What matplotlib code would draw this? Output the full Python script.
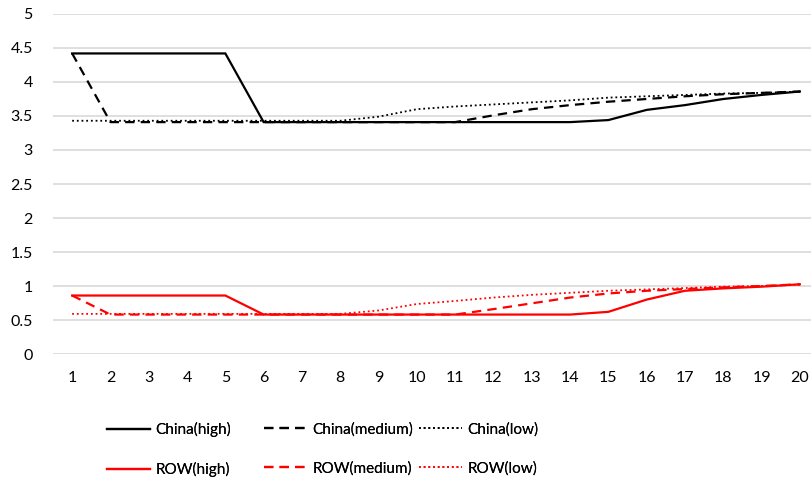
import matplotlib
matplotlib.use("Agg")
import matplotlib.pyplot as plt

periods = list(range(1, 21))
x_labels = [str(p) for p in periods]

china_high = [4.42, 4.42, 4.42, 4.42, 4.42, 3.41, 3.41, 3.41, 3.41, 3.41,
              3.41, 3.41, 3.41, 3.41, 3.44, 3.59, 3.66, 3.75, 3.81, 3.86]
china_medium = [4.42, 3.41, 3.41, 3.41, 3.41, 3.41, 3.41, 3.41, 3.41, 3.41,
                3.41, 3.51, 3.60, 3.66, 3.71, 3.75, 3.79, 3.82, 3.84, 3.86]
china_low = [3.43, 3.43, 3.43, 3.43, 3.43, 3.43, 3.43, 3.43, 3.49, 3.60,
             3.64, 3.67, 3.70, 3.73, 3.77, 3.79, 3.81, 3.83, 3.84, 3.86]

row_high = [0.86, 0.86, 0.86, 0.86, 0.86, 0.58, 0.58, 0.58, 0.58, 0.58,
            0.58, 0.58, 0.58, 0.58, 0.62, 0.80, 0.93, 0.965, 0.99, 1.025]
row_medium = [0.86, 0.58, 0.58, 0.58, 0.58, 0.58, 0.58, 0.58, 0.58, 0.58,
              0.58, 0.66, 0.745, 0.83, 0.89, 0.93, 0.955, 0.98, 1.0, 1.025]
row_low = [0.59, 0.59, 0.59, 0.59, 0.59, 0.59, 0.59, 0.59, 0.64, 0.735,
           0.78, 0.83, 0.87, 0.90, 0.93, 0.95, 0.97, 0.99, 1.0, 1.02]

y_ticks = [0, 0.5, 1, 1.5, 2, 2.5, 3, 3.5, 4, 4.5, 5]
y_tick_labels = ["0", "0.5", "1", "1.5", "2", "2.5", "3", "3.5", "4", "4.5", "5"]

plt.rcParams["font.family"] = ["Lato", "DejaVu Sans"]

W, H = 811, 482
fig = plt.figure(figsize=(W / 100, H / 100), dpi=100)
ax = fig.add_axes([53 / W, 128 / H, (819 - 53) / W, 340 / H])

solid = dict(linestyle="-", linewidth=1.6)
dashed = dict(linestyle=(0, (4.2, 2.8)), linewidth=1.6)
dotted = dict(linestyle=(0, (1.0, 1.6)), linewidth=1.3)

series = [
    (china_high, "China(high)", "black", solid),
    (china_medium, "China(medium)", "black", dashed),
    (china_low, "China(low)", "black", dotted),
    (row_high, "ROW(high)", "#FF0000", solid),
    (row_medium, "ROW(medium)", "#FF0000", dashed),
    (row_low, "ROW(low)", "#FF0000", dotted),
]

lines = {}
for values, label, color, style in series:
    (ln,) = ax.plot(periods, values, color=color, label=label,
                    solid_joinstyle="miter", **style)
    lines[label] = ln

ax.set_xlim(0.5, 20.5)
ax.set_ylim(0, 5)
ax.set_xticks(periods)
ax.set_xticklabels(x_labels)
ax.set_yticks(y_ticks)
ax.set_yticklabels(y_tick_labels)
ax.grid(axis="y", color="#D9D9D9", linewidth=1.2)
ax.set_axisbelow(True)
for side in ax.spines.values():
    side.set_visible(False)
ax.tick_params(axis="both", length=0, labelsize=11.5, colors="black")
ax.tick_params(axis="y", pad=14.5)
ax.tick_params(axis="x", pad=12.5)
for t in ax.get_yticklabels():
    t.set_horizontalalignment("right")

# Legend: three columns, two rows each
columns = [
    (["China(high)", "ROW(high)"], 101),
    (["China(medium)", "ROW(medium)"], 258),
    (["China(low)", "ROW(low)"], 413),
]
for labels, xpix in columns:
    leg = fig.legend(
        [lines[l] for l in labels], labels,
        loc="upper left", bbox_to_anchor=(xpix / W, 1 - 416 / H),
        frameon=False, fontsize=11, handlelength=2.8, handletextpad=0.35,
        labelspacing=1.62, borderaxespad=0, borderpad=0.4,
    )
    fig.add_artist(leg)

fig.savefig("out.png", dpi=100)
